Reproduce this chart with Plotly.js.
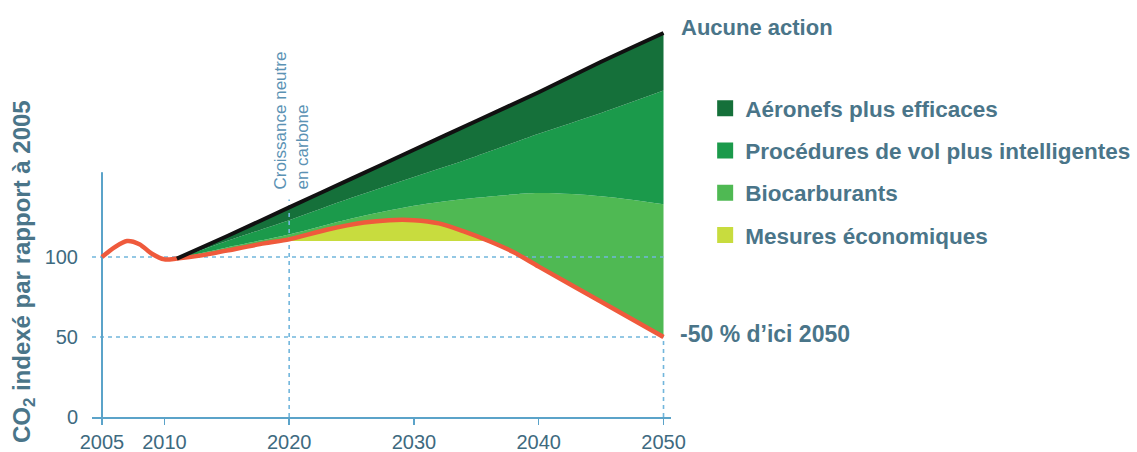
<!DOCTYPE html>
<html>
<head>
<meta charset="utf-8">
<script src="https://cdn.plot.ly/plotly-3.0.1.min.js"></script>
<style>html,body{margin:0;padding:0;background:#fff;}#chart{width:1137px;height:452px;}</style>
</head>
<body>
<div id="chart"></div>
<script>
// ---------- data ----------
var targetYears = [2005, 2006, 2007, 2008, 2009, 2010, 2011, 2013, 2015, 2018, 2020, 2023, 2026, 2028, 2030, 2032, 2034, 2036, 2038, 2040, 2045, 2050];
var targetValues = [100, 106, 110, 108, 102, 98.5, 99, 101, 104, 108.5, 111, 117, 121.5, 123, 123, 121, 116, 110, 103, 94, 72, 50];

var scenarioYears = [2011, 2015, 2020, 2025, 2030, 2035, 2040, 2045, 2050];
var noAction       = [99, 113, 131, 149, 167, 185, 203, 222, 240];
var afterAircraft  = [99, 110, 123, 137, 150, 163, 177, 190, 204];
var afterOps       = [99, 106, 114, 124, 132, 137, 140, 138, 133];

var neutralYear = 2020;      // croissance neutre en carbone
var neutralCap = 110;        // niveau plafonné
var refLevels = [100, 50];
var endYear = 2050;
var startYear = 2005;

var xTicks = [2005, 2010, 2020, 2030, 2040, 2050];
var yTicks = [0, 50, 100];

var seriesNames = ['Aéronefs plus efficaces', 'Procédures de vol plus intelligentes', 'Biocarburants', 'Mesures économiques'];
var seriesColors = ['#15703a', '#1b9a4b', '#4fb953', '#c8dc3e'];

// ---------- styling ----------
var AXIS = '#5ba3c9';
var DASH = '#72b6dc';
var TXT = '#4a7589';
var TICKTXT = '#3e6a80';
var RED = '#ef5a3c';
var X0 = 2004.2, X1 = 2050.6;

// subsets
var baseX = [], baseY = [];
var capX = [], capY = [], capTopY = [];
for (var i = 0; i < targetYears.length; i++) {
  if (targetYears[i] >= scenarioYears[0]) { baseX.push(targetYears[i]); baseY.push(targetValues[i]); }
  if (targetYears[i] >= neutralYear && targetValues[i] >= neutralCap) {
    capX.push(targetYears[i]); capY.push(neutralCap); capTopY.push(targetValues[i]);
  }
}

var sp = {shape: 'spline', smoothing: 0.8, width: 0};
var traces = [];
// light green: between target and afterOps
traces.push({x: baseX, y: baseY, mode: 'lines', line: sp, showlegend: false, hoverinfo: 'skip'});
traces.push({x: scenarioYears, y: afterOps, mode: 'lines', line: sp, fill: 'tonexty', fillcolor: seriesColors[2], showlegend: false, hoverinfo: 'skip'});
// medium green
traces.push({x: scenarioYears, y: afterAircraft, mode: 'lines', line: sp, fill: 'tonexty', fillcolor: seriesColors[1], showlegend: false, hoverinfo: 'skip'});
// dark green
traces.push({x: scenarioYears, y: noAction, mode: 'lines', line: sp, fill: 'tonexty', fillcolor: seriesColors[0], showlegend: false, hoverinfo: 'skip'});
// yellow (mesures économiques)
traces.push({x: capX, y: capY, mode: 'lines', line: {width: 0}, showlegend: false, hoverinfo: 'skip'});
traces.push({x: capX, y: capTopY, mode: 'lines', line: sp, fill: 'tonexty', fillcolor: seriesColors[3], showlegend: false, hoverinfo: 'skip'});

// dashed reference lines
refLevels.forEach(function (v) {
  traces.push({x: [X0, endYear], y: [v, v], mode: 'lines', line: {color: DASH, width: 1.6, dash: '4px,4px'}, showlegend: false, hoverinfo: 'skip'});
});
var idxN = scenarioYears.indexOf(neutralYear);
traces.push({x: [neutralYear, neutralYear], y: [0, noAction[idxN] + 5], mode: 'lines', line: {color: DASH, width: 1.6, dash: '4px,4px'}, showlegend: false, hoverinfo: 'skip'});
traces.push({x: [endYear, endYear], y: [0, targetValues[targetValues.length - 1]], mode: 'lines', line: {color: DASH, width: 1.6, dash: '4px,4px'}, showlegend: false, hoverinfo: 'skip'});

// y axis line (partial)
traces.push({x: [startYear, startYear], y: [0, 153], mode: 'lines', line: {color: AXIS, width: 2}, showlegend: false, hoverinfo: 'skip'});

// red target line
traces.push({x: targetYears, y: targetValues, mode: 'lines', line: {color: RED, width: 4.5, shape: 'spline', smoothing: 0.8}, showlegend: false, name: 'Objectif'});
// black no-action line
traces.push({x: scenarioYears, y: noAction, mode: 'lines', line: {color: '#111111', width: 4, shape: 'spline', smoothing: 0.8}, showlegend: false, name: 'Aucune action'});

// legend entries
seriesNames.forEach(function (n, k) {
  traces.push({x: [null], y: [null], mode: 'markers', name: n, legendgroup: 'g' + k,
    marker: {symbol: 'square', size: 16, color: seriesColors[k]}, hoverinfo: 'skip'});
});

var layout = {
  width: 1137, height: 452,
  margin: {l: 92, r: 466, t: 17, b: 35, autoexpand: false},
  paper_bgcolor: '#ffffff', plot_bgcolor: '#ffffff',
  font: {family: 'Liberation Sans, Arial, sans-serif', color: TXT},
  showlegend: true,
  legend: {x: 1.059, xanchor: 'left', y: 0.825, yanchor: 'top', traceorder: 'grouped',
    tracegroupgap: 10, bgcolor: 'rgba(0,0,0,0)',
    font: {size: 22.5, color: TXT, weight: 'bold', family: 'Liberation Sans, Arial, sans-serif'}},
  xaxis: {range: [X0, X1], tickvals: xTicks, ticktext: xTicks.map(String), showgrid: false, zeroline: false,
    showline: true, linecolor: AXIS, linewidth: 2, ticks: 'outside', ticklen: 6, tickwidth: 1.5, tickcolor: AXIS,
    tickfont: {size: 20, color: TICKTXT}, ticklabelstandoff: 0, fixedrange: true},
  yaxis: {range: [0, 250], tickvals: yTicks, ticktext: yTicks.map(String), showgrid: false, zeroline: false,
    showline: false, ticks: '', tickfont: {size: 20, color: TICKTXT}, ticklabelstandoff: 13, fixedrange: true},
  annotations: [
    {x: endYear, y: noAction[noAction.length - 1], xref: 'x', yref: 'y', text: 'Aucune action', showarrow: false,
      xanchor: 'left', yanchor: 'middle', xshift: 15, yshift: 6, font: {size: 22, weight: 'bold', color: TXT}},
    {x: endYear, y: targetValues[targetValues.length - 1], xref: 'x', yref: 'y', text: '-50 % d’ici 2050', showarrow: false,
      xanchor: 'left', yanchor: 'middle', xshift: 14, yshift: 3, font: {size: 23, weight: 'bold', color: TXT}},
    {x: neutralYear, y: noAction[idxN] + 5, xref: 'x', yref: 'y', text: 'Croissance neutre<br>en carbone', showarrow: false,
      textangle: -90, align: 'left', xanchor: 'center', yanchor: 'bottom', xshift: 2, yshift: 8,
      font: {size: 17, color: '#5b92b4'}},
    {x: -0.119, y: 0.3625, xref: 'paper', yref: 'paper', text: 'CO<sub>2</sub> indexé par rapport à 2005', showarrow: false,
      textangle: -90, xanchor: 'center', yanchor: 'middle', font: {size: 24, weight: 'bold', color: TXT}}
  ]
};

Plotly.newPlot('chart', traces, layout, {displayModeBar: false, staticPlot: true});
</script>
</body>
</html>
